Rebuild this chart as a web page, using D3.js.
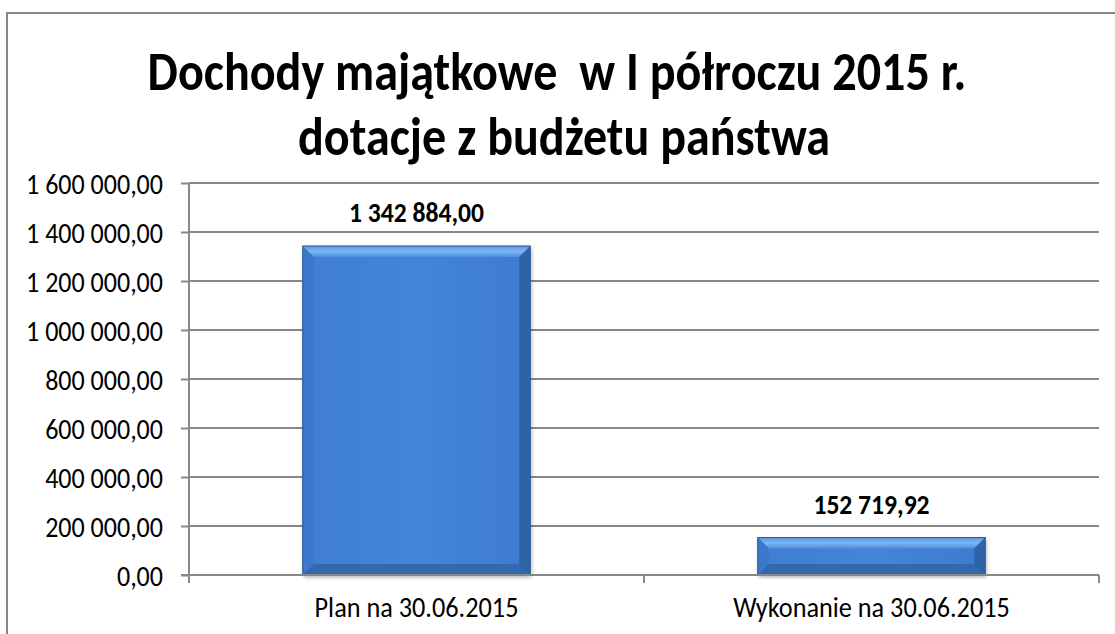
<!DOCTYPE html>
<html><head><meta charset="utf-8">
<script src="https://cdn.jsdelivr.net/npm/d3@7"></script>
<style>body{margin:0;background:#fff}svg{display:block}</style>
</head><body>
<svg id="c" width="1115" height="634"></svg>
<script>
const categories = ["Plan na 30.06.2015", "Wykonanie na 30.06.2015"];
const values = [1342884.00, 152719.92];
const valueLabels = ["1 342 884,00", "152 719,92"];
const yTicks = [0, 200000, 400000, 600000, 800000, 1000000, 1200000, 1400000, 1600000];
const yTickLabels = ["0,00", "200 000,00", "400 000,00", "600 000,00", "800 000,00", "1 000 000,00", "1 200 000,00", "1 400 000,00", "1 600 000,00"];
const titleLines = ["Dochody majątkowe  w I półroczu 2015 r.", "dotacje z budżetu państwa"];

(function () {
const FONT = "Carlito, Calibri, Lato, 'Noto Sans', sans-serif";
const svg = d3.select("#c");
const pL = 189, pR = 1099, pT = 183, pB = 575;

svg.append("rect").attr("x", 7).attr("y", 13).attr("width", 1130).attr("height", 640)
  .attr("fill", "#fff").attr("stroke", "#878787").attr("stroke-width", 2);

// fit a group of texts so that reference node has width w, then enlarge glyph height by hf keeping widths
function fitGroup(sel, refNode, w, hf) {
  const fs = parseFloat(d3.select(refNode).attr("font-size"));
  const nfs = fs * w / refNode.getComputedTextLength();
  sel.attr("font-size", nfs);
  sel.each(function () {
    const wl = this.getComputedTextLength();
    d3.select(this).attr("font-size", nfs * hf).attr("textLength", wl).attr("lengthAdjust", "spacingAndGlyphs");
  });
}

// title
const tg = svg.append("g");
tg.selectAll("text").data(titleLines).join("text")
  .attr("x", (d, i) => i === 0 ? 557 : 564).attr("y", (d, i) => i === 0 ? 90 : 155)
  .attr("text-anchor", "middle").attr("font-family", FONT).attr("font-weight", "bold")
  .attr("font-size", 40).attr("fill", "#000").style("white-space", "pre").text(d => d);
fitGroup(tg.selectAll("text"), tg.select("text").node(), 819, 1.12);

const x = d3.scaleBand().domain(categories).range([pL, pR]).paddingInner(0.5).paddingOuter(0.25);
const y = d3.scaleLinear().domain([0, 1600000]).range([pB, pT]);

svg.append("g").selectAll("line").data(yTicks.filter(d => d > 0)).join("line")
  .attr("x1", pL).attr("x2", pR).attr("y1", d => y(d)).attr("y2", d => y(d))
  .attr("stroke", "#888").attr("stroke-width", 2);

const yAxis = d3.axisLeft(y).tickValues(yTicks).tickSize(8).tickPadding(18)
  .tickFormat((d, i) => yTickLabels[i]);
const ga = svg.append("g").attr("transform", `translate(${pL},0)`).call(yAxis);
ga.select(".domain").attr("stroke", "#888").attr("stroke-width", 2).attr("d", `M0,${pT}V${pB}`);
ga.selectAll(".tick line").attr("stroke", "#888").attr("stroke-width", 2);
ga.selectAll(".tick text").attr("font-family", FONT).attr("font-size", 22).attr("fill", "#000").attr("dy", "0.36em");
fitGroup(ga.selectAll(".tick text"), ga.selectAll(".tick text").filter(d => d === 1600000).node(), 137, 1.1);

const catEdges = [pL, (pL + pR) / 2, pR];
const xg = svg.append("g");
xg.selectAll("line.t").data(catEdges).join("line").attr("class", "t")
  .attr("x1", d => d).attr("x2", d => d).attr("y1", pB).attr("y2", pB + 8)
  .attr("stroke", "#888").attr("stroke-width", 2);
const cl = xg.selectAll("text").data(categories).join("text")
  .attr("x", d => x(d) + x.bandwidth() / 2).attr("y", 617).attr("text-anchor", "middle")
  .attr("font-family", FONT).attr("font-size", 22).attr("fill", "#000").text(d => d);
fitGroup(cl, cl.nodes()[0], 204, 1.1);

const defs = svg.append("defs");
const g1 = defs.append("linearGradient").attr("id", "face").attr("x1", 0).attr("x2", 1).attr("y1", 0).attr("y2", 0);
g1.append("stop").attr("offset", 0).attr("stop-color", "#3f7ed2");
g1.append("stop").attr("offset", 0.5).attr("stop-color", "#4485d8");
g1.append("stop").attr("offset", 1).attr("stop-color", "#3d7bcf");
const gt = defs.append("linearGradient").attr("id", "topb").attr("x1", 0).attr("x2", 0).attr("y1", 0).attr("y2", 1);
gt.append("stop").attr("offset", 0).attr("stop-color", "#5d98e4");
gt.append("stop").attr("offset", 0.5).attr("stop-color", "#7cb5f2");
gt.append("stop").attr("offset", 1).attr("stop-color", "#4f8ddc");
const flt = defs.append("filter").attr("id", "sh").attr("x", -0.1).attr("y", -0.1).attr("width", 1.2).attr("height", 1.2);
flt.append("feDropShadow").attr("dx", 1).attr("dy", 2).attr("stdDeviation", 2).attr("flood-color", "#000").attr("flood-opacity", 0.35);

const data = categories.map((c, i) => ({c, v: values[i], lab: valueLabels[i]}));
const bars = svg.append("g").selectAll("g").data(data).join("g");
bars.each(function(d) {
  const g = d3.select(this);
  const x0 = x(d.c), w = x.bandwidth(), y0 = y(d.v), h = pB - y0;
  const b = Math.min(11, h / 3.2);
  g.append("rect").attr("x", x0).attr("y", y0).attr("width", w).attr("height", h)
    .attr("fill", "url(#face)").attr("filter", "url(#sh)");
  g.append("polygon").attr("points", [[x0, y0], [x0 + w, y0], [x0 + w - b, y0 + b], [x0 + b, y0 + b]].join(" "))
    .attr("fill", "url(#topb)");
  g.append("polygon").attr("points", [[x0, y0], [x0 + b, y0 + b], [x0 + b, pB - b], [x0, pB]].join(" "))
    .attr("fill", "#3b78c9");
  g.append("polygon").attr("points", [[x0 + w, y0], [x0 + w, pB], [x0 + w - b, pB - b], [x0 + w - b, y0 + b]].join(" "))
    .attr("fill", "#2e63a6");
  g.append("polygon").attr("points", [[x0, pB], [x0 + w, pB], [x0 + w - b, pB - b], [x0 + b, pB - b]].join(" "))
    .attr("fill", "#3268ad");
  g.append("rect").attr("x", x0).attr("y", y0).attr("width", w).attr("height", h)
    .attr("fill", "none").attr("stroke", "#2b5a94").attr("stroke-width", 1);
  g.append("text").attr("class", "vl").attr("x", x0 + w / 2).attr("y", y0 - 24).attr("text-anchor", "middle")
    .attr("font-family", FONT).attr("font-weight", "bold").attr("font-size", 22).attr("fill", "#000").text(d.lab);
});
{
  const vl = svg.selectAll("text.vl");
  fitGroup(vl, vl.nodes()[0], 135, 1.1);
}
svg.append("line").attr("x1", pL - 8).attr("x2", pR).attr("y1", pB).attr("y2", pB)
  .attr("stroke", "#888").attr("stroke-width", 2);
})();
</script>
</body></html>
